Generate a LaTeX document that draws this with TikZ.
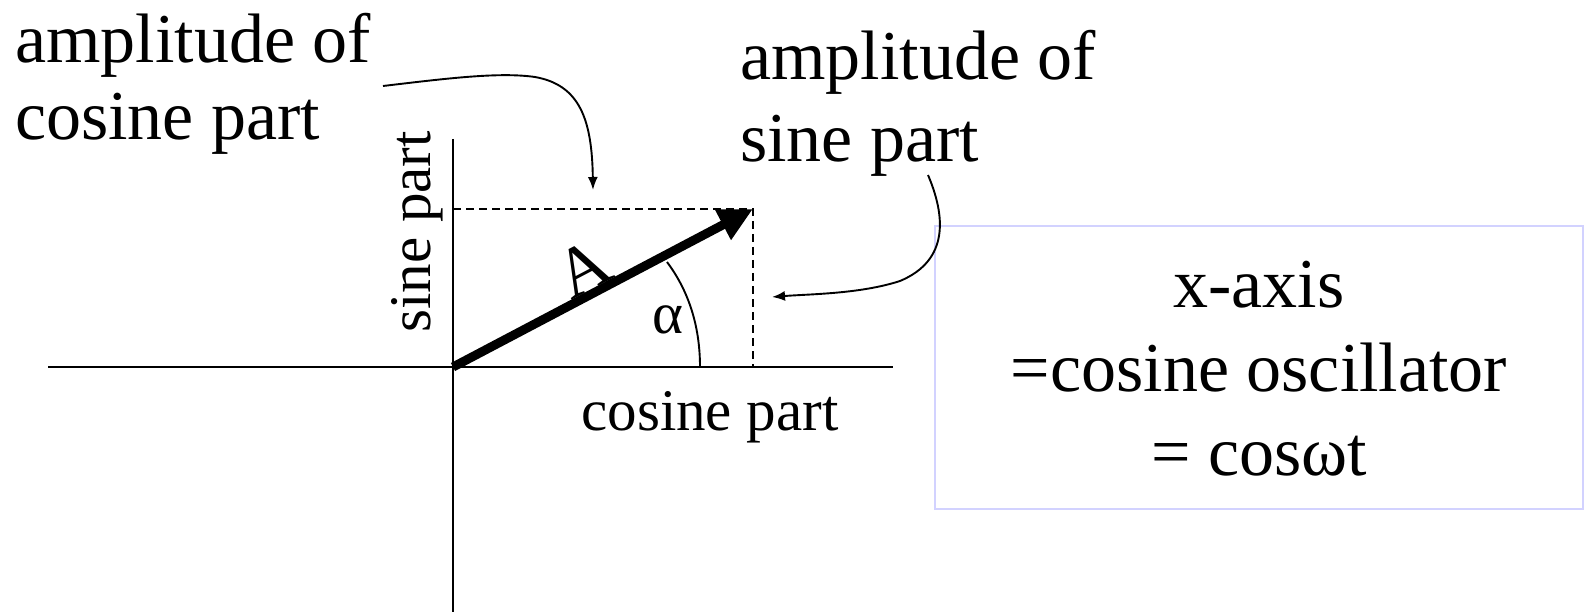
\documentclass[tikz,border=0pt]{standalone}
\usepackage{fontspec}
\setmainfont{Liberation Serif}
\usetikzlibrary{arrows.meta}
\definecolor{boxline}{RGB}{210,210,255}
\begin{document}
\begin{tikzpicture}[x=1pt,y=-1pt,
  axis/.style={line width=2.4pt},
  guide/.style={line width=2pt,dash pattern=on 8pt off 5pt},
  vec/.style={line width=9pt,-{Triangle[length=34pt,width=32pt]}},
  pointer/.style={line width=1.9pt,-{Latex[length=13pt,width=10pt]}},
  thinline/.style={line width=1.9pt},
  big/.style={font=\fontsize{70}{84}\selectfont,inner sep=0pt},
  mid/.style={font=\fontsize{59}{70}\selectfont,inner sep=0pt}]

\useasboundingbox (0,0) rectangle (1589,612);

% axes
\coordinate (O) at (453,367);
\coordinate (xl) at (48,367);
\coordinate (xr) at (893,367);
\coordinate (yt) at (453,139);
\coordinate (yb) at (453,612);
\draw[axis] (xl) -- (xr);
\draw[axis] (yt) -- (yb);

% vector and projections
\coordinate (T) at (753,209);
\coordinate (Tx) at (753,367);
\coordinate (Ty) at (453,209);
\draw[guide] (Ty) -- (T) -- (Tx);
\draw[vec] (O) -- (T);

% angle arc
\coordinate (a0) at (700,367);
\coordinate (a1) at (667,262);
\draw[thinline] (a0) .. controls (700,325) and (688,290) .. (a1);

% labels
\node[big,anchor=base west] (ac1) at (15,63) {amplitude of};
\node[big,anchor=base west] (ac2) at (15,140) {cosine part};
\node[big,anchor=base west] (as1) at (740,80) {amplitude of};
\node[big,anchor=base west] (as2) at (740,162) {sine part};
\node[mid,anchor=base] (cp) at (710,430) {cosine part};
\node[mid,anchor=base,rotate=90] (sp) at (430,232) {sine part};
\node[mid,anchor=base] (al) at (668,333) {α};
\node[big,rotate=27.7] (A) at (583,268) {A};

% box
\node[draw=boxline,line width=2pt,minimum width=648pt,minimum height=283pt,inner sep=0pt] (box) at (1259,367.5) {};
\node[big,anchor=base] (b1) at (1259,307) {x-axis};
\node[big,anchor=base] (b2) at (1259,391) {=cosine oscillator};
\node[big,anchor=base] (b3) at (1259,475) {= cosωt};

% pointers
\coordinate (p1s) at (383,86);
\coordinate (p1e) at (593,190);
\draw[pointer] (p1s) .. controls (450,78) and (500,72) .. (535,77)
  .. controls (580,85) and (592,120) .. (p1e);
\coordinate (p2s) at (928,175);
\coordinate (p2e) at (772,297);
\draw[pointer] (p2s) .. controls (945,215) and (950,260) .. (900,281)
  .. controls (860,294) and (810,294) .. (p2e);
\end{tikzpicture}
\end{document}
